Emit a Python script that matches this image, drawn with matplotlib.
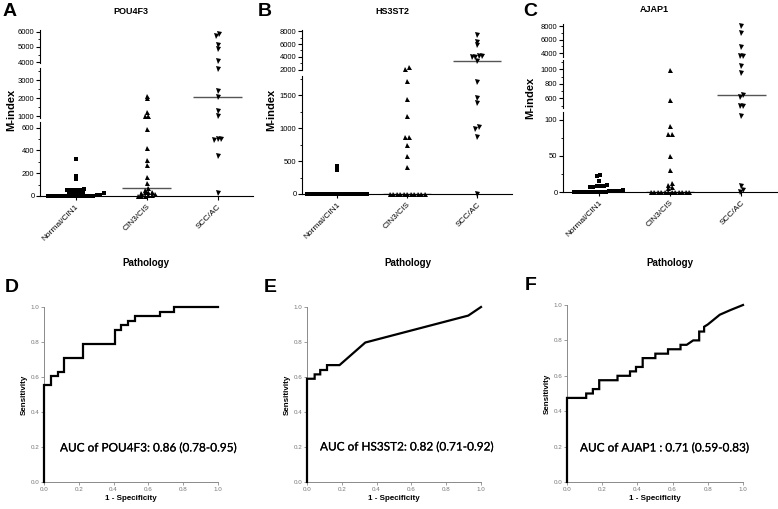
import numpy as np
import matplotlib.pyplot as plt
import matplotlib.patheffects as pe
from matplotlib.ticker import AutoMinorLocator

plt.rcParams['font.family'] = ['Liberation Sans', 'DejaVu Sans']

W, H = 778, 509

groups = ['Normal/CIN1', 'CIN3/CIS', 'SCC/AC']

# M-index values per pathology group
pou4f3_normal = [327, 174, 147, 58, 56, 55, 53, 52, 50, 30, 28, 27, 25, 24, 22,
                 6, 5, 4, 3, 2, 2, 1, 1, 1, 0, 0, 0, 0, 0, 0, 0]
pou4f3_cin3 = [2128, 1983, 1240, 1000, 1000, 588, 424, 312, 274, 170, 117,
               68, 55, 38, 33, 31, 30, 15, 12, 5, 3, 0, 0]
pou4f3_scc = [5867, 5733, 5133, 4867, 4089, 3611, 2389, 2074, 1278, 1017,
              503, 488, 503, 347, 24]

hs3st2_normal = [424, 364, 0, 0, 0, 0, 0, 0, 0, 0, 0, 0, 0, 0, 0, 0, 0, 0, 0, 0,
                 0, 0, 0, 0]
hs3st2_cin3 = [2350, 2050, 1717, 1439, 1182, 859, 859, 742, 576, 404,
               0, 0, 0, 0, 0, 0, 0, 0, 0, 0, 0]
hs3st2_scc = [7402, 6346, 5827, 4142, 4142, 3984, 3890, 3354, 1697, 1460, 1374,
              1010, 980, 868, 0]

ajap1_normal = [23, 22, 15, 10, 9, 9, 8, 7, 7, 3, 2, 2, 1, 1,
                0, 0, 0, 0, 0, 0, 0, 0, 0, 0]
ajap1_cin3 = [990, 577, 92, 80, 80, 50, 30, 13, 10, 7, 5,
              0, 0, 0, 0, 0, 0, 0, 0, 0, 0, 0, 0]
ajap1_scc = [8000, 6928, 4966, 3600, 3600, 1045, 945, 645, 613, 498, 498, 105,
             8, 3, 0]

# ROC curve vertices
pou4f3_fpr = [0, 0, 0.042, 0.042, 0.08, 0.08, 0.113, 0.113, 0.224, 0.224, 0.406,
              0.406, 0.444, 0.444, 0.483, 0.483, 0.521, 0.521, 0.665, 0.665,
              0.745, 0.745, 1.0]
pou4f3_tpr = [0, 0.553, 0.553, 0.605, 0.605, 0.63, 0.63, 0.71, 0.71, 0.79, 0.79,
              0.868, 0.868, 0.895, 0.895, 0.92, 0.92, 0.947, 0.947, 0.974, 0.974,
              1.0, 1.0]
hs3st2_fpr = [0, 0, 0.044, 0.044, 0.076, 0.076, 0.115, 0.115, 0.187, 0.335, 0.927, 1.0]
hs3st2_tpr = [0, 0.59, 0.59, 0.615, 0.615, 0.64, 0.64, 0.668, 0.668, 0.797, 0.951, 1.0]
ajap1_fpr = [0, 0, 0.109, 0.109, 0.147, 0.147, 0.183, 0.183, 0.287, 0.287, 0.358,
             0.358, 0.392, 0.392, 0.430, 0.430, 0.502, 0.502, 0.574, 0.574, 0.645,
             0.645, 0.68, 0.717, 0.751, 0.751, 0.779, 0.779, 0.80, 0.868, 0.93, 1.0]
ajap1_tpr = [0, 0.475, 0.475, 0.5, 0.5, 0.525, 0.525, 0.575, 0.575, 0.6, 0.6,
             0.625, 0.625, 0.65, 0.65, 0.70, 0.70, 0.725, 0.725, 0.75, 0.75, 0.775,
             0.775, 0.80, 0.80, 0.85, 0.85, 0.877, 0.89, 0.945, 0.972, 1.0]

fig = plt.figure(figsize=(W / 100, H / 100), dpi=100)


def px_axes(x0, y0, x1, y1):
    return fig.add_axes([x0 / W, 1 - y1 / H, (x1 - x0) / W, (y1 - y0) / H])


def ftext(x, y, s, **kw):
    fig.text(x / W, 1 - y / H, s, ha='center', va='center', **kw)


def seg_index(v, segs):
    for i, s in enumerate(segs):
        if s[0] <= v <= s[1]:
            return i
    d = [min(abs(v - s[0]), abs(v - s[1])) for s in segs]
    return int(np.argmin(d))


def value_px(v, segs):
    lo, hi, pt, pb, _ = segs[seg_index(v, segs)]
    return pb - (v - lo) / (hi - lo) * (pb - pt)


def swarm(vals, segs, unit_px, size=3.5, row=2.6, maxw=60):
    # lay points of about the same height side by side, like a column scatter
    ys = np.array([value_px(v, segs) for v in vals])
    order = np.argsort(-ys, kind='stable')
    offs = np.zeros(len(vals))
    rows = []
    for i in order:
        if rows and rows[-1][0] - ys[i] < row:
            rows[-1][1].append(i)
        else:
            rows.append([ys[i], [i]])
    for _, idx in rows:
        n = len(idx)
        if n > 1:
            step = min(size, maxw / (n - 1))
            offs[idx] = (np.arange(n) - (n - 1) / 2) * step / unit_px
    return offs


scatter_panels = [
    dict(letter='A', title='POU4F3', data=[pou4f3_normal, pou4f3_cin3, pou4f3_scc],
         x0=40, x1=253,
         segs=[(3950, 6100, 30, 63, [4000, 5000, 6000]),
               (890, 3670, 68, 118, [1000, 2000, 3000]),
               (0, 650, 122, 196, [0, 200, 400, 600])],
         letter_xy=(10, 12), title_xy=(131, 11), ylab_xy=(11, 110), xlab_xy=(146, 263)),
    dict(letter='B', title='HS3ST2', data=[hs3st2_normal, hs3st2_cin3, hs3st2_scc],
         x0=302, x1=512,
         segs=[(2000, 8200, 30, 69.5, [2000, 4000, 6000, 8000]),
               (0, 1790, 76, 194, [0, 500, 1000, 1500])],
         letter_xy=(265, 12), title_xy=(392, 11), ylab_xy=(271, 110), xlab_xy=(408, 263)),
    dict(letter='C', title='AJAP1', data=[ajap1_normal, ajap1_cin3, ajap1_scc],
         x0=563, x1=777,
         segs=[(3450, 8300, 24, 57, [4000, 6000, 8000]),
               (466, 1128, 60, 108, [600, 800, 1000]),
               (0, 111, 112, 192, [0, 50, 100])],
         letter_xy=(530, 12), title_xy=(654, 10), ylab_xy=(530, 98), xlab_xy=(670, 263)),
]

markers = ['s', '^', 'v']
msizes = [2.6, 3.6, 3.6]

for p in scatter_panels:
    axs = []
    nseg = len(p['segs'])
    for k, (lo, hi, pt, pb, ticks) in enumerate(p['segs']):
        ax = px_axes(p['x0'], pt, p['x1'], pb)
        ax.set_xlim(-0.5, 2.5)
        ax.set_ylim(lo, hi)
        ax.patch.set_visible(False)
        ax.spines['top'].set_visible(False)
        ax.spines['right'].set_visible(False)
        ax.spines['left'].set_linewidth(0.8)
        ax.spines['bottom'].set_linewidth(0.8)
        ax.set_yticks(ticks)
        ax.set_yticklabels([str(t) for t in ticks])
        ax.yaxis.set_minor_locator(AutoMinorLocator(2))
        ax.tick_params(axis='y', which='major', labelsize=5.5, length=3, width=0.8, pad=1)
        ax.tick_params(axis='y', which='minor', length=1.8, width=0.6)
        if k == nseg - 1:
            ax.set_xticks(range(3))
            ax.set_xticklabels(groups, rotation=45, ha='right', rotation_mode='anchor',
                               fontsize=6)
            ax.tick_params(axis='x', length=3, width=0.8, pad=2)
        else:
            ax.spines['bottom'].set_visible(False)
            ax.set_xticks([])
        axs.append(ax)

    unit_px = (p['x1'] - p['x0']) / 3
    for g, vals in enumerate(p['data']):
        vals = np.asarray(vals, float)
        offs = swarm(vals, p['segs'], unit_px)
        seg_of = np.array([seg_index(v, p['segs']) for v in vals])
        for k, ax in enumerate(axs):
            m = seg_of == k
            ax.plot(g + offs[m], vals[m], ls='none', marker=markers[g], ms=msizes[g],
                    mew=0, color='black', clip_on=False, zorder=3)
        med = np.median(vals)
        axm = axs[seg_index(med, p['segs'])]
        axm.hlines(med, g - 0.34, g + 0.34, color='#555555', lw=1, zorder=2)

    ftext(*p['letter_xy'], p['letter'], fontsize=14, fontweight='bold')
    ftext(*p['title_xy'], p['title'], fontsize=6.5, fontweight='bold')
    ftext(*p['ylab_xy'], 'M-index', fontsize=8, fontweight='bold', rotation=90)
    ftext(*p['xlab_xy'], 'Pathology', fontsize=7, fontweight='bold')

roc_panels = [
    dict(letter='D', fpr=pou4f3_fpr, tpr=pou4f3_tpr, box=(44, 307, 218, 482),
         text='AUC of POU4F3: 0.86 (0.78-0.95)', text_xy=(60, 448), letter_xy=(12, 287)),
    dict(letter='E', fpr=hs3st2_fpr, tpr=hs3st2_tpr, box=(307, 307, 481, 482),
         text='AUC of HS3ST2: 0.82 (0.71-0.92)', text_xy=(320, 447), letter_xy=(270, 287)),
    dict(letter='F', fpr=ajap1_fpr, tpr=ajap1_tpr, box=(567, 305, 743, 482),
         text='AUC of AJAP1 : 0.71 (0.59-0.83)', text_xy=(580, 448), letter_xy=(531, 286)),
]

for p in roc_panels:
    ax = px_axes(*p['box'])
    ax.set_xlim(0, 1)
    ax.set_ylim(0, 1)
    ax.plot(p['fpr'], p['tpr'], color='black', lw=1.6, clip_on=False, zorder=3,
            solid_joinstyle='miter')
    ticks = np.arange(0, 1.01, 0.2)
    ax.set_xticks(ticks)
    ax.set_yticks(ticks)
    ax.set_xticklabels(['%.1f' % t for t in ticks])
    ax.set_yticklabels(['%.1f' % t for t in ticks])
    ax.spines['top'].set_visible(False)
    ax.spines['right'].set_visible(False)
    for s in ['left', 'bottom']:
        ax.spines[s].set_color('#8a8a8a')
        ax.spines[s].set_linewidth(0.7)
    ax.tick_params(labelsize=4.5, colors='#8a8a8a', labelcolor='#777777',
                   length=2.5, width=0.6, pad=1)
    ax.set_xlabel('1 - Specificity', fontsize=5.8, fontweight='bold', labelpad=2)
    ax.set_ylabel('Sensitivity', fontsize=5.8, fontweight='bold', labelpad=2)
    fig.text(p['text_xy'][0] / W, 1 - p['text_xy'][1] / H, p['text'], ha='left',
             va='center', fontsize=8.5, family=['Lato', 'DejaVu Sans'],
             path_effects=[pe.withStroke(linewidth=0.12, foreground='black')])
    ftext(*p['letter_xy'], p['letter'], fontsize=14, fontweight='bold')

fig.savefig('out.png', dpi=100)
